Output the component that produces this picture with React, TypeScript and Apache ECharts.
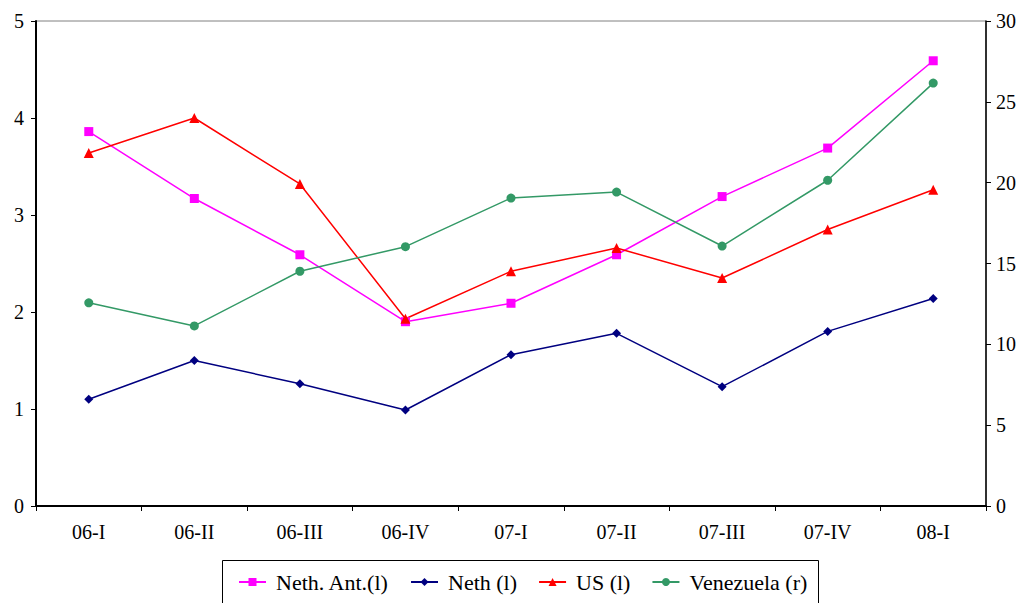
import React, { useEffect, useRef } from "react";
import * as echarts from "echarts";

const categories = ["06-I", "06-II", "06-III", "06-IV", "07-I", "07-II", "07-III", "07-IV", "08-I"];
const nethAnt = [3.86, 3.17, 2.59, 1.9, 2.09, 2.59, 3.19, 3.69, 4.59];
const neth = [1.1, 1.5, 1.26, 0.99, 1.56, 1.78, 1.23, 1.8, 2.14];
const us = [3.64, 4.0, 3.32, 1.93, 2.42, 2.66, 2.35, 2.85, 3.26];
const venezuela = [12.57, 11.14, 14.52, 16.04, 19.05, 19.42, 16.08, 20.15, 26.16];

const FONT = "Liberation Serif";

export default function App() {
  const ref = useRef<HTMLDivElement>(null);
  useEffect(() => {
    if (!ref.current) return;
    const chart = echarts.init(ref.current, null, { renderer: "svg" });
    const mkSeries = (name: string, data: number[], color: string, symbol: string, size: number, yAxisIndex: number) => ({
      name,
      type: "line",
      data,
      yAxisIndex,
      symbol,
      symbolSize: size,
      showAllSymbol: true,
      lineStyle: { color, width: 1.5 },
      itemStyle: { color },
      emphasis: { disabled: true },
    });
    chart.setOption({
      animation: false,
      textStyle: { fontFamily: FONT },
      grid: {
        left: 36,
        right: 35,
        top: 21,
        bottom: 97,
        show: true,
        borderColor: "#808080",
        borderWidth: 1,
        backgroundColor: "transparent",
      },
      legend: {
        top: 566,
        left: 233,
        itemWidth: 27,
        itemHeight: 10,
        itemGap: 21,
        textStyle: { fontFamily: FONT, fontSize: 22, color: "#000", padding: [0, 0, 0, 5] },
        data: ["Neth. Ant.(l)", "Neth (l)", "US (l)", "Venezuela (r)"],
      },
      graphic: [
        {
          type: "rect",
          shape: { x: 222.5, y: 560.5, width: 596, height: 60 },
          style: { fill: "none", stroke: "#000", lineWidth: 1 },
          silent: true,
          z: -1,
        },
      ],
      xAxis: {
        type: "category",
        data: categories,
        boundaryGap: true,
        axisLine: { lineStyle: { color: "#000", width: 2 } },
        axisTick: { show: true, length: 5, lineStyle: { color: "#000", width: 1 } },
        axisLabel: { fontFamily: FONT, fontSize: 20, color: "#000", margin: 16 },
        splitLine: { show: false },
      },
      yAxis: [
        {
          type: "value",
          min: 0,
          max: 5,
          interval: 1,
          position: "left",
          axisLine: { show: true, lineStyle: { color: "#000", width: 2 } },
          axisTick: { show: true, length: 5, lineStyle: { color: "#000", width: 1 } },
          axisLabel: { fontFamily: FONT, fontSize: 20, color: "#000", margin: 12 },
          splitLine: { show: false },
        },
        {
          type: "value",
          min: 0,
          max: 30,
          interval: 5,
          position: "right",
          axisLine: { show: true, lineStyle: { color: "#000", width: 1.5 } },
          axisTick: { show: true, length: 5, lineStyle: { color: "#000", width: 1 } },
          axisLabel: { fontFamily: FONT, fontSize: 20, color: "#000", margin: 10 },
          splitLine: { show: false },
        },
      ],
      series: [
        mkSeries("Neth. Ant.(l)", nethAnt, "#FF00FF", "rect", 9, 0),
        mkSeries("Neth (l)", neth, "#000080", "diamond", 9, 0),
        mkSeries("US (l)", us, "#FF0000", "triangle", 10, 0),
        mkSeries("Venezuela (r)", venezuela, "#339966", "circle", 9, 1),
      ],
    });
    return () => chart.dispose();
  }, []);
  return (
    <div
      ref={ref}
      style={{ position: "fixed", left: 0, top: 0, width: 1021, height: 603, background: "#fff" }}
    />
  );
}
